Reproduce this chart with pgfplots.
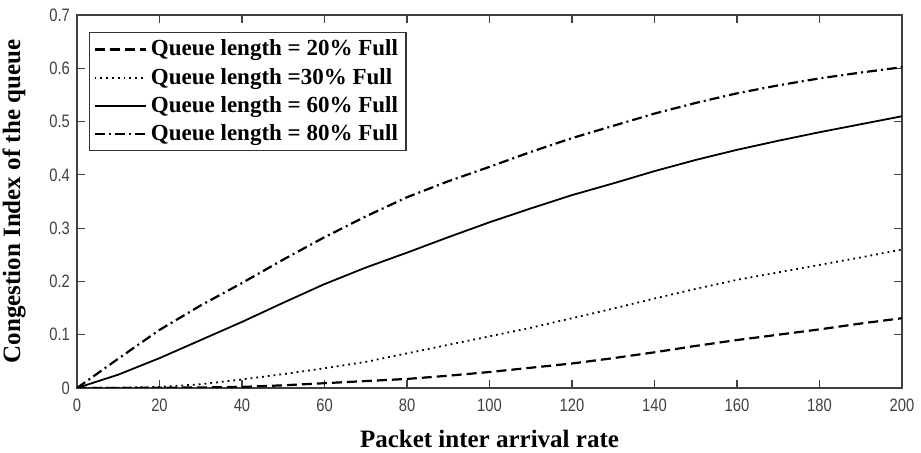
\documentclass[border=0pt]{standalone}
\usepackage{fontspec}
\setmainfont{Liberation Serif}
\newfontfamily\tickfont[FakeStretch=0.82]{Liberation Sans}
\usepackage{pgfplots}
\pgfplotsset{compat=1.18}
\begin{document}
\begin{tikzpicture}
\begin{axis}[
  scale only axis,
  width=412.5pt, height=186.5pt,
  xmin=0, xmax=200, ymin=0, ymax=0.7,
  xtick={0,20,...,200}, ytick={0,0.1,...,0.7},
  yticklabel style={/pgf/number format/fixed, /pgf/number format/precision=1},
  xticklabel style={yshift=-2pt},
  tick align=inside, tick pos=both,
  major tick length=4pt,
  axis line style={black!75, line width=0.6pt},
  every tick/.style={black!75, line width=0.6pt},
  ticklabel style={font=\tickfont\fontsize{9}{10}\selectfont, text=black!75},
  /pgf/number format/assume math mode=true,
  xlabel={\bfseries Packet inter arrival rate},
  ylabel={\bfseries Congestion Index of the queue},
  label style={font=\fontsize{12.5}{14}\selectfont},
  xlabel style={yshift=-2.5pt},
  ylabel style={yshift=5pt},
  legend style={at={(0.0145,0.954)}, anchor=north west, draw=black!80, line width=0.6pt,
    font=\fontsize{11.5}{13.75}\selectfont\bfseries, inner xsep=2pt, inner ysep=2pt,
    row sep=1.4pt, nodes={inner ysep=1.6pt}},
  legend cell align=left,
  legend image code/.code={\draw[#1] (0cm,0cm) -- (0.9cm,0cm);},
]
\addplot[black, line width=1.1pt, dash pattern=on 5pt off 2.5pt] coordinates {
(0,0) (10,0) (20,0.0005) (30,0.001) (40,0.002) (50,0.005) (60,0.009) (70,0.013) (80,0.017) (90,0.023) (100,0.030) (110,0.038) (120,0.046) (130,0.056) (140,0.067) (150,0.079) (160,0.090) (170,0.100) (180,0.110) (190,0.121) (200,0.131)};
\addlegendentry{Queue length = 20\% Full}
\addplot[black, line width=0.9pt, dash pattern=on 0.9pt off 2pt] coordinates {
(0,0) (10,0.0005) (20,0.002) (30,0.007) (40,0.016) (50,0.026) (60,0.037) (70,0.049) (80,0.065) (90,0.081) (100,0.097) (110,0.113) (120,0.131) (130,0.149) (140,0.168) (150,0.186) (160,0.203) (170,0.217) (180,0.231) (190,0.245) (200,0.260)};
\addlegendentry{Queue length =30\% Full}
\addplot[black, line width=0.9pt] coordinates {
(0,0) (10,0.025) (20,0.056) (30,0.090) (40,0.124) (50,0.160) (60,0.195) (70,0.226) (80,0.254) (90,0.283) (100,0.311) (110,0.337) (120,0.362) (130,0.384) (140,0.407) (150,0.428) (160,0.447) (170,0.464) (180,0.480) (190,0.495) (200,0.510)};
\addlegendentry{Queue length = 60\% Full}
\addplot[black, line width=1.1pt, dash pattern=on 5pt off 2pt on 1pt off 2pt] coordinates {
(0,0) (10,0.055) (20,0.109) (30,0.155) (40,0.197) (50,0.241) (60,0.283) (70,0.322) (80,0.358) (90,0.388) (100,0.415) (110,0.443) (120,0.469) (130,0.492) (140,0.515) (150,0.535) (160,0.553) (170,0.568) (180,0.581) (190,0.592) (200,0.602)};
\addlegendentry{Queue length = 80\% Full}
\end{axis}
\pgfresetboundingbox
\path[use as bounding box] (-38.5pt,-32.5pt) rectangle (422pt,194pt);
\end{tikzpicture}
\end{document}
